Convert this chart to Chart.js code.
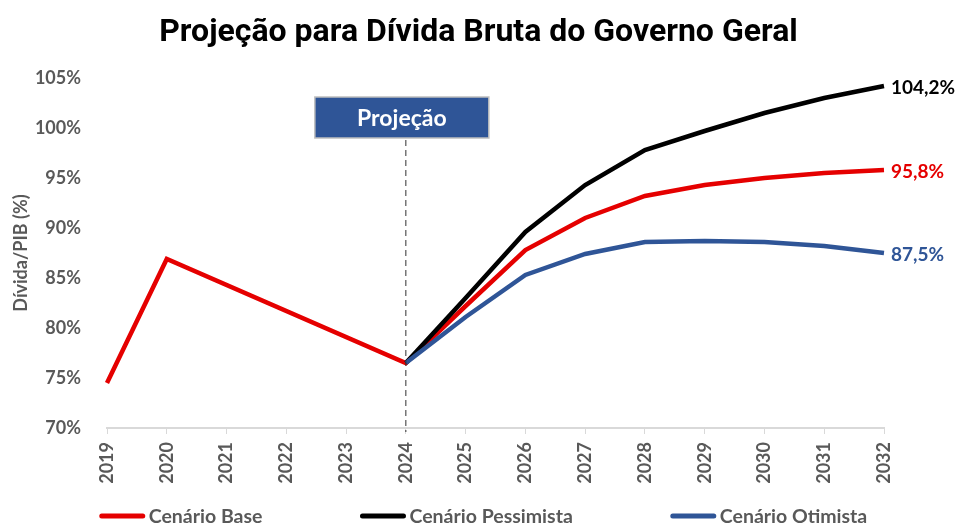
<!DOCTYPE html>
<html lang="pt">
<head>
<meta charset="UTF-8">
<title>Projeção para Dívida Bruta do Governo Geral</title>
<script src="https://cdn.jsdelivr.net/npm/chart.js"></script>
<style>
    html, body { margin: 0; padding: 0; background: #fff; }
    .chart-box { width: 957px; height: 526px; }
</style>
</head>
<body>
<div class="chart-box"><canvas id="chartCanvas"></canvas></div>
<script>
    // dados
    const anos = ['2019', '2020', '2021', '2022', '2023', '2024', '2025', '2026', '2027', '2028', '2029', '2030', '2031', '2032'];
    const cenarioBase = [74.5, 86.9, null, null, null, 76.5, 82.2, 87.8, 91.0, 93.2, 94.3, 95.0, 95.5, 95.8];
    const cenarioPessimista = [null, null, null, null, null, 76.5, 83.0, 89.6, 94.3, 97.8, 99.7, 101.5, 103.0, 104.2];
    const cenarioOtimista = [null, null, null, null, null, 76.5, 81.1, 85.3, 87.4, 88.6, 88.7, 88.6, 88.2, 87.5];
    const rotulosFinais = ['95,8%', '104,2%', '87,5%'];
    const inicioProjecao = '2024';

    const CINZA = '#595959';
    const VERMELHO = '#E50000';
    const PRETO = '#000000';
    const AZUL = '#2F5597';

    // caixa "Projeção", linha tracejada, rótulos do último ano e legenda
    const extras = {
        id: 'extras',
        afterDatasetsDraw(chart) {
            const ctx = chart.ctx;
            const x = chart.scales.x.getPixelForValue(anos.indexOf(inicioProjecao));
            const area = chart.chartArea;

            ctx.save();
            ctx.strokeStyle = '#303030';
            ctx.lineWidth = 1;
            ctx.setLineDash([6, 4]);
            ctx.beginPath();
            ctx.moveTo(x, 140);
            ctx.lineTo(x, area.bottom + 4);
            ctx.stroke();
            ctx.setLineDash([]);

            const bw = 174, bh = 41, bx = x - 91, by = 97;
            ctx.fillStyle = AZUL;
            ctx.fillRect(bx, by, bw, bh);
            ctx.strokeStyle = '#BFBFBF';
            ctx.lineWidth = 1.5;
            ctx.strokeRect(bx, by, bw, bh);
            ctx.fillStyle = '#fff';
            ctx.font = 'bold 23px Lato';
            ctx.textAlign = 'center';
            ctx.textBaseline = 'middle';
            ctx.fillText('Projeção', bx + bw / 2, by + bh / 2 + 1);

            // rótulos no fim das linhas
            ctx.font = 'bold 19px Lato';
            ctx.textAlign = 'left';
            chart.data.datasets.forEach((ds, i) => {
                const meta = chart.getDatasetMeta(i);
                const pt = meta.data[meta.data.length - 1];
                ctx.fillStyle = ds.borderColor;
                ctx.fillText(rotulosFinais[i], pt.x + 7, pt.y + 2);
            });

            // legenda
            ctx.font = 'bold 19.5px Lato';
            const marcador = 45, folga = 4, espaco = 98;
            const larguras = chart.data.datasets.map(ds => marcador + folga + ctx.measureText(ds.label).width);
            const total = larguras.reduce((a, b) => a + b, 0) + espaco * (larguras.length - 1);
            let lx = chart.width / 2 + 5 - total / 2;
            const ly = 516;
            chart.data.datasets.forEach((ds, i) => {
                ctx.strokeStyle = ds.borderColor;
                ctx.lineWidth = 5;
                ctx.lineCap = 'round';
                ctx.beginPath();
                ctx.moveTo(lx + 2, ly);
                ctx.lineTo(lx + marcador - 2, ly);
                ctx.stroke();
                ctx.fillStyle = CINZA;
                ctx.fillText(ds.label, lx + marcador + folga, ly + 1);
                lx += larguras[i] + espaco;
            });
            ctx.restore();
        }
    };

    const ctx = document.getElementById('chartCanvas').getContext('2d');
    new Chart(ctx, {
        type: 'line',
        data: {
            labels: anos,
            datasets: [
                { label: 'Cenário Base', data: cenarioBase, borderColor: VERMELHO, backgroundColor: VERMELHO, borderWidth: 4.5, order: 3, spanGaps: true },
                { label: 'Cenário Pessimista', data: cenarioPessimista, borderColor: PRETO, backgroundColor: PRETO, borderWidth: 4.5, order: 2 },
                { label: 'Cenário Otimista', data: cenarioOtimista, borderColor: AZUL, backgroundColor: AZUL, borderWidth: 4.5, order: 1 }
            ]
        },
        options: {
            responsive: true,
            maintainAspectRatio: false,
            animation: false,
            elements: {
                line: { tension: 0 },
                point: { radius: 0, hoverRadius: 0 }
            },
            layout: { padding: { top: 0, bottom: 36, left: 0, right: 0 } },
            plugins: {
                title: {
                    display: true,
                    text: 'Projeção para Dívida Bruta do Governo Geral',
                    color: '#000',
                    font: { family: 'Roboto', size: 32, weight: 'bold' },
                    padding: { top: 14, bottom: 25.6 }
                },
                legend: { display: false },
                tooltip: { enabled: false }
            },
            scales: {
                x: {
                    offset: false,
                    grid: { display: true, drawOnChartArea: false, drawTicks: true, tickLength: 6, color: '#D9D9D9' },
                    border: { display: true, color: '#D9D9D9', width: 2 },
                    ticks: {
                        color: CINZA,
                        minRotation: 90,
                        maxRotation: 90,
                        padding: 8,
                        font: { family: 'Lato', size: 18, weight: 'bold' }
                    },
                    afterFit: s => { s.height = 62; }
                },
                y: {
                    min: 70,
                    max: 105,
                    grid: { display: false },
                    border: { display: false },
                    ticks: {
                        stepSize: 5,
                        color: CINZA,
                        padding: 18,
                        font: { family: 'Lato', size: 18, weight: 'bold' },
                        callback: v => v + '%'
                    },
                    title: {
                        display: true,
                        text: 'Dívida/PIB (%)',
                        color: CINZA,
                        font: { family: 'Lato', size: 18, weight: 'bold' },
                        padding: { top: 10, bottom: 0 }
                    },
                    afterFit: s => { s.width = 107; }
                },
                espacoDireita: {
                    position: 'right',
                    display: true,
                    grid: { display: false },
                    border: { display: false },
                    ticks: { display: false },
                    afterFit: s => { s.width = 73; }
                }
            }
        },
        plugins: [extras]
    });
</script>
</body>
</html>
